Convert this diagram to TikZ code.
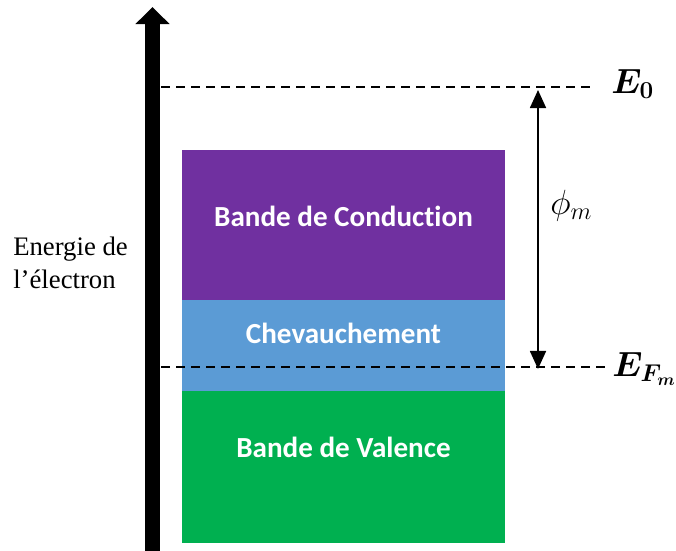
\documentclass[tikz,border=0pt]{standalone}
\usepackage{fontspec}
\usepackage{amsmath}
\setmainfont{Liberation Serif}
\newfontfamily\bandfont[Ligatures=NoCommon]{Carlito}
\usetikzlibrary{arrows.meta}

\definecolor{conduction}{HTML}{7030A0}
\definecolor{overlap}{HTML}{5B9BD5}
\definecolor{valence}{HTML}{00B050}

\tikzset{
  band/.style={inner sep=0pt, minimum width=8.075cm},
  bandtext/.style={text=white, inner sep=0pt, font=\bandfont\bfseries\fontsize{20.7}{24}\selectfont},
  level/.style={dashed, dash pattern=on 0.225cm off 0.15cm, line width=1.4pt},
  levellabel/.style={anchor=west, inner sep=0pt, font=\fontsize{24}{28}\selectfont}
}

\begin{document}
\begin{tikzpicture}[x=0.025cm, y=-0.025cm]
  \useasboundingbox (0,0) rectangle (676,551);

  % Bandes
  \node[band, fill=conduction, minimum height=3.75cm] (cond) at (343.5,225.5) {};
  \node[band, fill=overlap, minimum height=2.275cm] (chev) at (343.5,346) {};
  \node[band, fill=valence, minimum height=3.8cm] (val) at (343.5,467) {};
  \node[bandtext] (condtext) at (343.5,216) {Bande de Conduction};
  \node[bandtext] (chevtext) at (343.5,333) {Chevauchement};
  \node[bandtext] (valtext) at (343.5,447) {Bande de Valence};

  % Axe des energies
  \coordinate (axebas) at (152.5,551);
  \coordinate (axehaut) at (152.5,7);
  \draw[line width=0.375cm, -{Triangle[length=0.425cm, width=0.825cm]}] (axebas) -- (axehaut);
  \node[anchor=west, align=left, inner sep=0pt, font=\fontsize{19}{23.5}\selectfont] (axelabel) at (13,263)
    {Energie de\\l’électron};

  % Niveaux
  \coordinate (vide0) at (161,87);
  \coordinate (vide1) at (590,87);
  \draw[level] (vide0) -- (vide1);
  \node[levellabel] (E0) at (611,84) {$\boldsymbol{E_0}$};

  \coordinate (fermi0) at (161,367);
  \coordinate (fermi1) at (608,367);
  \draw[level] (fermi0) -- (fermi1);
  \node[levellabel] (EF) at (612,369) {$\boldsymbol{E_{F_m}}$};

  % Travail de sortie
  \coordinate (phihaut) at (538,90);
  \coordinate (phibas) at (538,369);
  \draw[line width=1.2pt, {Triangle[length=0.45cm, width=0.4cm]}-{Triangle[length=0.45cm, width=0.4cm]}] (phihaut) -- (phibas);
  \node[levellabel] (phi) at (550,206) {$\phi_m$};
\end{tikzpicture}
\end{document}
